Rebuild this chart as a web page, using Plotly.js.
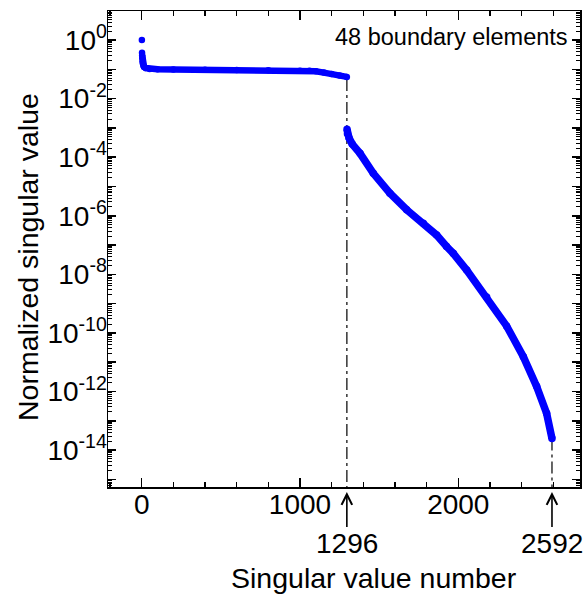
<!DOCTYPE html>
<html>
<head>
<meta charset="utf-8">
<script src="https://cdn.plot.ly/plotly-3.0.1.min.js"></script>
<style>html,body{margin:0;padding:0;background:#fff;}#chart{width:584px;height:599px;}</style>
</head>
<body>
<div id="chart"></div>
<script>
// Segment 1: singular values 1..1296 (normalized)
const idx1 = [1, 2, 3, 4, 5, 7, 10, 15, 25, 50, 100, 200, 400, 600, 800, 1000, 1060, 1100, 1150, 1200, 1250, 1296];
const val1 = [1.0, 0.37, 0.30, 0.24, 0.19, 0.16, 0.135, 0.12, 0.11, 0.103, 0.1, 0.098, 0.096, 0.094, 0.092, 0.09, 0.089, 0.085, 0.077, 0.069, 0.061, 0.055];
// Segment 2: singular values 1297..2592
const idx2 = [1297, 1300, 1310, 1330, 1379, 1463, 1568, 1674, 1779, 1863, 1926, 1968, 2053, 2179, 2306, 2411, 2495, 2558, 2592];
const val2 = [8.9e-4, 6.3e-4, 4.5e-4, 2.8e-4, 1.35e-4, 2.8e-5, 5.9e-6, 1.6e-6, 5.5e-7, 2.2e-7, 8.9e-8, 5.2e-8, 1.4e-8, 1.7e-9, 1.7e-10, 1.55e-11, 1.5e-12, 1.8e-13, 2.5e-14];
// Markers of the split positions
const splitX = [1296, 2592];
const splitLabels = ['1296', '2592'];
// Axis ticks
const xTickVals = [0, 1000, 2000];
const xTickText = ['0', '1000', '2000'];
const yExponents = [0, -1, -2, -3, -4, -5, -6, -7, -8, -9, -10, -11, -12, -13, -14, -15];
const xTitle = 'Singular value number';
const yTitle = 'Normalized singular value';

const BLUE = '#0000ff';
const FONT = 'Liberation Sans, Arial, sans-serif';

const yTickVals = yExponents.map(e => Math.pow(10, e));
const yTickText = yExponents.map(e => (e % 2 === 0) ? '10<sup>' + e + '</sup>' : '');

const dashStyle = '12px,4px,3px,4px';
const traces = [
  // vertical dash-dot guides from axis up to the data
  {x: [splitX[0], splitX[0]], y: [val1[val1.length - 1] * 0.85, 1e-17], mode: 'lines',
   line: {color: '#333', width: 1.5, dash: dashStyle}, hoverinfo: 'skip'},
  {x: [splitX[1], splitX[1]], y: [val2[val2.length - 1], 1e-17], mode: 'lines',
   line: {color: '#333', width: 1.5, dash: dashStyle}, hoverinfo: 'skip'},
  // dense parts of each segment
  {x: idx1.slice(2), y: val1.slice(2), mode: 'lines', line: {color: BLUE, width: 6.5}},
  {x: idx2, y: val2, mode: 'lines', line: {color: BLUE, width: 7.5}},
  // the individual points
  {x: idx1, y: val1, mode: 'markers', marker: {color: BLUE, size: 6.5}},
  {x: idx2, y: val2, mode: 'markers', marker: {color: BLUE, size: 7.5}}
];

const annotations = [
  {text: '48 boundary elements', xref: 'paper', yref: 'paper', x: 0.979, y: 0.945,
   xanchor: 'right', yanchor: 'middle', showarrow: false, font: {family: FONT, size: 23.5, color: '#000'}},
  {text: xTitle, xref: 'paper', yref: 'paper', x: (374 - 108) / 472, y: -0.191,
   xanchor: 'center', yanchor: 'middle', showarrow: false, font: {family: FONT, size: 28.5, color: '#000'}},
  {text: yTitle, xref: 'paper', yref: 'paper', x: (28 - 108) / 472, y: (487 - 257) / 476, textangle: -90,
   xanchor: 'center', yanchor: 'middle', showarrow: false, font: {family: FONT, size: 28.5, color: '#000'}}
];
splitX.forEach((sx, i) => {
  annotations.push({text: splitLabels[i], xref: 'x', yref: 'paper', x: sx, y: -0.0105,
    showarrow: true, ax: 0, ay: 52, arrowhead: 5, arrowsize: 1.3, arrowwidth: 1.6, arrowcolor: '#000',
    font: {family: FONT, size: 28, color: '#000'}});
});

const layout = {
  width: 584, height: 599,
  margin: {l: 108, r: 4, t: 11, b: 112, pad: 0},
  paper_bgcolor: '#fff', plot_bgcolor: '#fff',
  showlegend: false,
  font: {family: FONT, color: '#000'},
  xaxis: {
    range: [-213, 2769], showline: true, linecolor: '#000', linewidth: 1.5, mirror: 'allticks',
    ticks: 'inside', ticklen: 9, tickwidth: 1.5, tickcolor: '#000',
    tickmode: 'array', tickvals: xTickVals, ticktext: xTickText,
    tickfont: {family: FONT, size: 28, color: '#000'}, ticklabelstandoff: -8,
    showgrid: false, zeroline: false,
    minor: {tick0: 0, dtick: 200, ticks: 'inside', ticklen: 5, tickwidth: 1.2, tickcolor: '#000', showgrid: false}
  },
  yaxis: {
    type: 'log', range: [-15.26, 0.99], showline: true, linecolor: '#000', linewidth: 1.5, mirror: 'allticks',
    ticks: 'inside', ticklen: 8, tickwidth: 1.5, tickcolor: '#000',
    tickmode: 'array', tickvals: yTickVals, ticktext: yTickText,
    tickfont: {family: FONT, size: 28, color: '#000'}, ticklabelstandoff: -6,
    showgrid: false, zeroline: false,
    minor: {dtick: 'D1', ticks: 'inside', ticklen: 4, tickwidth: 1, tickcolor: '#000', showgrid: false}
  },
  annotations: annotations
};

Plotly.newPlot('chart', traces, layout, {staticPlot: true, displayModeBar: false});
</script>
</body>
</html>
